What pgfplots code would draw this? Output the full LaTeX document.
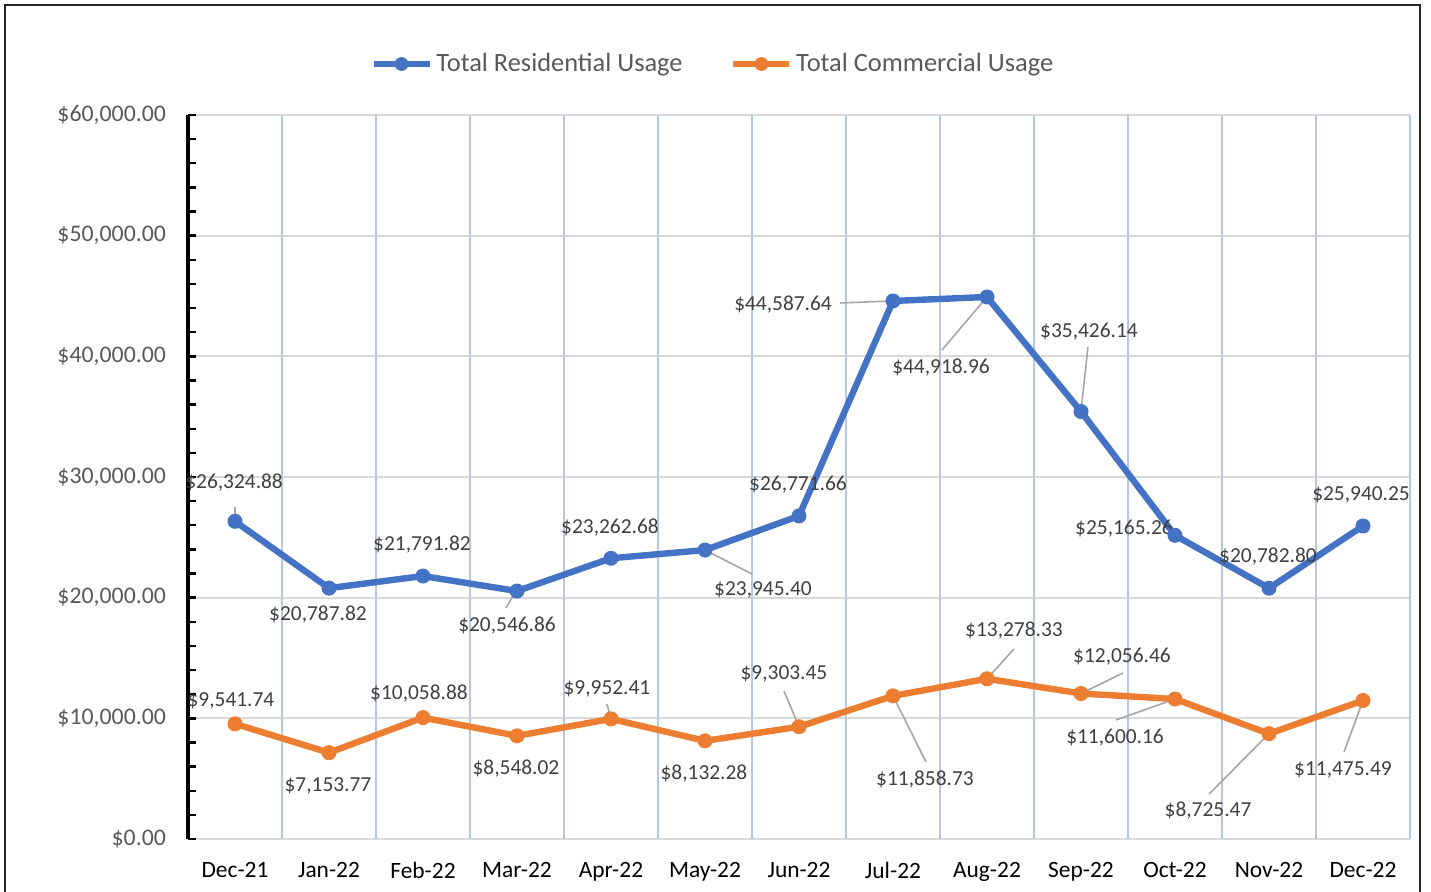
\documentclass[border=0pt]{standalone}
\usepackage{pgfplots}
\pgfplotsset{compat=1.18}
\usepackage{fontspec}
\setmainfont{Carlito}
\definecolor{resblue}{HTML}{4472C4}
\definecolor{comorange}{HTML}{ED7D31}
\definecolor{gridgray}{HTML}{D9D9D9}
\definecolor{gridblue}{HTML}{B4C7E7}
\definecolor{ticktext}{HTML}{595959}
\definecolor{labeltext}{HTML}{404040}
\definecolor{leadergray}{HTML}{A6A6A6}
\tikzset{
  dl/.style={font=\fontsize{10.7pt}{12pt}\selectfont, text=labeltext, inner sep=0pt},
  leader/.style={leadergray, line width=0.8pt}
}
\begin{document}
\begin{tikzpicture}
\useasboundingbox (0,0) rectangle (715.5pt,446pt);
\draw[line width=1pt, black!85] (2.5pt,-5pt) -- (2.5pt,443.25pt) -- (710pt,443.25pt) -- (710pt,-5pt);
\begin{axis}[
  at={(94pt,26.5pt)}, anchor=south west,
  scale only axis, width=611pt, height=362pt,
  xmin=-0.5, xmax=12.5, ymin=0, ymax=60000,
  clip=false,
  scaled y ticks=false,
  axis x line*=bottom, axis y line*=left,
  x axis line style={draw=none},
  y axis line style={line width=2pt, black},
  xtick={0,...,12},
  xticklabels={Dec-21,Jan-22,Feb-22,Mar-22,Apr-22,May-22,Jun-22,Jul-22,Aug-22,Sep-22,Oct-22,Nov-22,Dec-22},
  xtick style={draw=none},
  ytick={0,10000,20000,30000,40000,50000,60000},
  yticklabels={{\$0.00},{\$10,000.00},{\$20,000.00},{\$30,000.00},{\$40,000.00},{\$50,000.00},{\$60,000.00}},
  minor y tick num=4,
  ytick style={black, line width=1.2pt},
  tick align=inside,
  major tick length=4pt, minor tick length=4pt,
  xticklabel style={font=\fontsize{11.7pt}{14pt}\selectfont, text=black, yshift=-8pt},
  yticklabel style={font=\fontsize{11.9pt}{14pt}\selectfont, text=ticktext, xshift=-7.5pt},
  ymajorgrids, major grid style={gridgray, line width=1pt},
  extra x ticks={0.5,1.5,2.5,3.5,4.5,5.5,6.5,7.5,8.5,9.5,10.5,11.5,12.5},
  extra x tick labels={},
  extra x tick style={grid=major, major grid style={gridblue, line width=0.8pt}, major tick length=0pt},
  legend style={at={(0.4304,1.0704)}, anchor=center, draw=none, fill=none,
    legend columns=2, font=\fontsize{13.2pt}{15pt}\selectfont, text=ticktext,
    /tikz/every even column/.append style={column sep=22pt}, cells={anchor=west}},
  legend image code/.code={\draw[mark repeat=2, mark phase=2, #1, line width=2.8pt, mark size=3.2pt] plot coordinates {(0pt,0pt) (14pt,0pt) (28pt,0pt)};},
]
\addplot[resblue, line width=3.2pt, mark=*, mark size=3.5pt, mark options={line width=0.5pt}] coordinates {
  (0,26324.88) (1,20787.82) (2,21791.82) (3,20546.86) (4,23262.68) (5,23945.40) (6,26771.66)
  (7,44587.64) (8,44918.96) (9,35426.14) (10,25165.26) (11,20782.80) (12,25940.25)};
\addlegendentry{Total Residential Usage}
\addplot[comorange, line width=3.2pt, mark=*, mark size=3.5pt, mark options={line width=0.5pt}] coordinates {
  (0,9541.74) (1,7153.77) (2,10058.88) (3,8548.02) (4,9952.41) (5,8132.28) (6,9303.45)
  (7,11858.73) (8,13278.33) (9,12056.46) (10,11600.16) (11,8725.47) (12,11475.49)};
\addlegendentry{Total Commercial Usage}
% leader lines
\draw[leader] (axis cs:0,27514) -- (axis cs:0,26325);
\draw[leader] (axis cs:2.883,19144) -- (axis cs:2.97,20300);
\draw[leader] (axis cs:5.5,21961) -- (axis cs:5,23945);
\draw[leader] (axis cs:6.436,44420) -- (axis cs:7,44588);
\draw[leader] (axis cs:7.521,40525) -- (axis cs:8,44919);
\draw[leader] (axis cs:9.074,40773) -- (axis cs:9,35426);
\draw[leader] (axis cs:3.957,11188) -- (axis cs:4,9952);
\draw[leader] (axis cs:5.84,12265) -- (axis cs:6,9303);
\draw[leader] (axis cs:7.351,6381) -- (axis cs:7,11859);
\draw[leader] (axis cs:8.287,15746) -- (axis cs:8,13278);
\draw[leader] (axis cs:9.447,13757) -- (axis cs:9,12056);
\draw[leader] (axis cs:9.372,9862) -- (axis cs:10,11600);
\draw[leader] (axis cs:10.362,3729) -- (axis cs:11,8725);
\draw[leader] (axis cs:11.798,7210) -- (axis cs:12,11475);
% residential labels
\node[dl] at (axis cs:-0.01,29503) {\$26,324.88};
\node[dl] at (axis cs:0.883,18564) {\$20,787.82};
\node[dl] at (axis cs:1.989,24365) {\$21,791.82};
\node[dl] at (axis cs:2.894,17652) {\$20,546.86};
\node[dl] at (axis cs:3.989,25774) {\$23,262.68};
\node[dl] at (axis cs:5.617,20635) {\$23,945.40};
\node[dl] at (axis cs:5.989,29337) {\$26,771.66};
\node[dl] at (axis cs:5.830,44254) {\$44,587.64};
\node[dl] at (axis cs:7.511,39033) {\$44,918.96};
\node[dl] at (axis cs:9.085,42017) {\$35,426.14};
\node[dl] at (axis cs:9.457,25691) {\$25,165.26};
\node[dl] at (axis cs:10.989,23370) {\$20,782.80};
\node[dl] at (axis cs:11.979,28508) {\$25,940.25};
% commercial labels
\node[dl] at (axis cs:-0.043,11436) {\$9,541.74};
\node[dl] at (axis cs:0.989,4392) {\$7,153.77};
\node[dl] at (axis cs:1.957,12017) {\$10,058.88};
\node[dl] at (axis cs:2.989,5801) {\$8,548.02};
\node[dl] at (axis cs:3.957,12431) {\$9,952.41};
\node[dl] at (axis cs:4.989,5387) {\$8,132.28};
\node[dl] at (axis cs:5.84,13674) {\$9,303.45};
\node[dl] at (axis cs:7.34,4890) {\$11,858.73};
\node[dl] at (axis cs:8.287,17238) {\$13,278.33};
\node[dl] at (axis cs:9.436,15083) {\$12,056.46};
\node[dl] at (axis cs:9.362,8370) {\$11,600.16};
\node[dl] at (axis cs:10.351,2320) {\$8,725.47};
\node[dl] at (axis cs:11.787,5718) {\$11,475.49};
\end{axis}
\end{tikzpicture}
\end{document}
